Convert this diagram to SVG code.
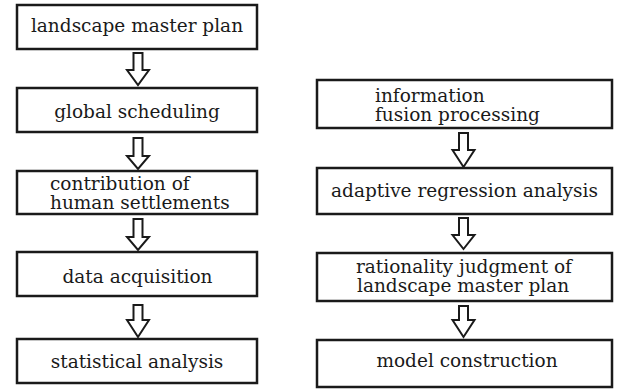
<svg xmlns="http://www.w3.org/2000/svg" width="625" height="389" viewBox="0 0 625 389">
<style>
.box{fill:#fff;stroke:#1a1a1a;stroke-width:2.5}
.arr{fill:#fff;stroke:#1a1a1a;stroke-width:2;stroke-linejoin:miter}
.c{text-anchor:middle}
</style>
<rect width="625" height="389" fill="#fff"/>
<g id="connectors">
<path class="arr" d="M133.5,53 h9 v17 h6.5 l-11,15 l-11,-15 h6.5 z"/>
<path class="arr" d="M133.5,138 h9 v18 h6.5 l-11,13 l-11,-13 h6.5 z"/>
<path class="arr" d="M133.5,219 h9 v18 h6.5 l-11,13 l-11,-13 h6.5 z"/>
<path class="arr" d="M133.5,305 h9 v15 h6.5 l-11,17 l-11,-17 h6.5 z"/>
<path class="arr" d="M459,133 h9 v17 h6.5 l-11,17 l-11,-17 h6.5 z"/>
<path class="arr" d="M459,218 h9 v17 h6.5 l-11,14 l-11,-14 h6.5 z"/>
<path class="arr" d="M459,306 h9 v14 h6.5 l-11,17 l-11,-17 h6.5 z"/>
</g>
<g font-family="DejaVu Serif, serif" font-size="18.5" fill="#1a1a1a">
<g id="n1"><rect class="box" x="17" y="5" width="240" height="44"/><text class="c" x="137" y="32">landscape master plan</text></g>
<g id="n2"><rect class="box" x="17" y="88" width="240" height="44"/><text class="c" x="137" y="118">global scheduling</text></g>
<g id="n3"><rect class="box" x="17" y="171" width="240" height="43"/><text x="50" y="189.5">contribution of</text><text x="50" y="208.5">human settlements</text></g>
<g id="n4"><rect class="box" x="17" y="252" width="240" height="44"/><text class="c" x="137.5" y="283">data acquisition</text></g>
<g id="n5"><rect class="box" x="17" y="339" width="240" height="44"/><text class="c" x="137" y="368">statistical analysis</text></g>
<g id="m1"><rect class="box" x="317" y="80" width="295" height="48"/><text x="375" y="101.5">information</text><text x="375" y="120.5">fusion processing</text></g>
<g id="m2"><rect class="box" x="317" y="168" width="295" height="46"/><text class="c" x="464.5" y="197">adaptive regression analysis</text></g>
<g id="m3"><rect class="box" x="317" y="253" width="295" height="48"/><text x="356" y="272.5">rationality judgment of</text><text x="357" y="291.5">landscape master plan</text></g>
<g id="m4"><rect class="box" x="317" y="340" width="295" height="47"/><text class="c" x="467" y="367">model construction</text></g>
</g>
</svg>
